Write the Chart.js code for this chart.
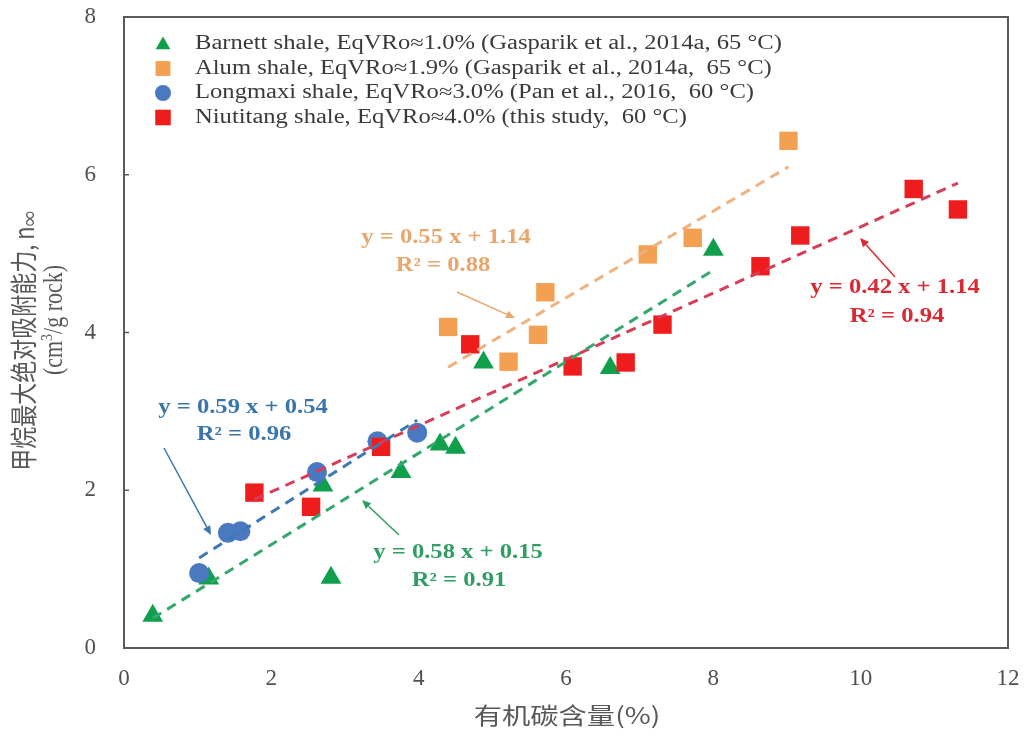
<!DOCTYPE html>
<html><head><meta charset="utf-8">
<script src="https://cdn.jsdelivr.net/npm/chart.js@4.4.0/dist/chart.umd.min.js"></script>
<style>html,body{margin:0;padding:0;background:#fff;}canvas{display:block;}</style>
</head><body>
<canvas id="c" width="1024" height="735"></canvas>
<script>
// ---------------- data ----------------
const seriesNames = [
  "Barnett shale, EqVRo\u22481.0% (Gasparik et al., 2014a, 65 \u00B0C)",
  "Alum shale, EqVRo\u22481.9% (Gasparik et al., 2014a,  65 \u00B0C)",
  "Longmaxi shale, EqVRo\u22483.0% (Pan et al., 2016,  60 \u00B0C)",
  "Niutitang shale, EqVRo\u22484.0% (this study,  60 \u00B0C)"
];
const barnettTOC = [0.39, 1.15, 2.70, 2.81, 3.76, 4.29, 4.50, 4.88, 6.60, 8.00];
const barnettN   = [0.41, 0.88, 2.06, 0.89, 2.23, 2.58, 2.54, 3.62, 3.55, 5.05];
const alumTOC    = [4.40, 5.22, 5.62, 5.72, 7.11, 7.72, 9.02];
const alumN      = [4.07, 3.63, 3.97, 4.51, 4.99, 5.20, 6.43];
const longmaxiTOC = [1.02, 1.41, 1.58, 2.62, 3.44, 3.98];
const longmaxiN   = [0.95, 1.46, 1.48, 2.23, 2.62, 2.73];
const niutitangTOC = [1.77, 2.54, 3.49, 4.70, 6.09, 6.81, 7.31, 8.64, 9.18, 10.72, 11.32];
const niutitangN   = [1.97, 1.79, 2.55, 3.85, 3.57, 3.62, 4.10, 4.84, 5.23, 5.82, 5.56];
// linear fits shown on the chart (Barnett, Alum, Longmaxi, Niutitang)
const fitSlope     = [0.58, 0.55, 0.59, 0.42];
const fitIntercept = [0.15, 1.14, 0.54, 1.14];
const fitR2        = [0.91, 0.88, 0.96, 0.94];
const xTickLabels = ["0","2","4","6","8","10","12"];
const yTickLabels = ["0","2","4","6","8"];
const xTitle = "\u6709\u673A\u78B3\u542B\u91CF(%)";
const yTitle1 = "\u7532\u70F7\u6700\u5927\u7EDD\u5BF9\u5438\u9644\u80FD\u529B, n";
const yTitle1Sub = "\u221E";
const yTitle2a = "(cm", yTitle2Sup = "3", yTitle2b = "/g rock)";

// ---------------- styles ----------------
const markerColors = ["#10A04C", "#F4A052", "#4A79C2", "#EE1C1C"];
const markerStyles = ["triangle", "rect", "circle", "rect"];
const markerRadius = [12, 13, 10, 13];
const lineColors   = ["#33A76C", "#F2B07E", "#3D79B4", "#D63E57"];
const labelColors  = ["#2E9E62", "#E9A66C", "#3A76AC", "#D92A34"];
const SX = 1.23; // horizontal stretch of the reference

const xs = [barnettTOC, alumTOC, longmaxiTOC, niutitangTOC];
const ys = [barnettN, alumN, longmaxiN, niutitangN];
const drawOrder = [4, 3, 2, 1];

const datasets = [];
for (let i = 0; i < 4; i++) {
  datasets.push({
    type: 'scatter',
    label: seriesNames[i],
    data: xs[i].map((x, k) => ({x: x, y: ys[i][k]})),
    pointStyle: markerStyles[i],
    pointRadius: markerRadius[i],
    pointHoverRadius: markerRadius[i],
    backgroundColor: markerColors[i],
    borderColor: markerColors[i],
    borderWidth: 0,
    order: drawOrder[i]
  });
}
for (let i = 0; i < 4; i++) {
  const x0 = Math.min(...xs[i]), x1 = Math.max(...xs[i]);
  datasets.push({
    type: 'line',
    label: 'fit' + i,
    data: [{x: x0, y: fitSlope[i]*x0 + fitIntercept[i]}, {x: x1, y: fitSlope[i]*x1 + fitIntercept[i]}],
    borderColor: lineColors[i],
    borderWidth: 3,
    borderDash: [10, 7],
    pointRadius: 0,
    fill: false,
    order: 0
  });
}

// annotation placement (pixels): [line1 cx, line1 cy, line2 cx, line2 cy, arrow from x,y, arrow to x,y]
const annos = [
  [458, 553, 459, 581, 399, 535, 362, 500],
  [446, 238, 443, 266, 457, 292, 515, 318],
  [243, 408, 244, 435, 164, 448, 211, 535],
  [895, 288, 897, 317, 895, 277, 860, 238]
];

function sText(ctx, text, x, y, align, font, color) {
  ctx.save();
  ctx.font = font; ctx.fillStyle = color; ctx.textBaseline = 'middle'; ctx.textAlign = 'left';
  const w = ctx.measureText(text).width * SX;
  const left = align === 'center' ? x - w/2 : (align === 'right' ? x - w : x);
  ctx.translate(left, y); ctx.scale(SX, 1);
  ctx.fillText(text, 0, 0);
  ctx.restore();
}
function marker(ctx, style, r, x, y, color) {
  ctx.save(); ctx.fillStyle = color; ctx.beginPath();
  if (style === 'triangle') {
    ctx.moveTo(x, y - r);
    ctx.lineTo(x + r*Math.sin(2*Math.PI/3), y - r*Math.cos(2*Math.PI/3));
    ctx.lineTo(x + r*Math.sin(4*Math.PI/3), y - r*Math.cos(4*Math.PI/3));
    ctx.closePath();
  } else if (style === 'rect') {
    const s = r*Math.SQRT1_2; ctx.rect(x - s, y - s, 2*s, 2*s);
  } else { ctx.arc(x, y, r, 0, 2*Math.PI); }
  ctx.fill(); ctx.restore();
}
function arrow(ctx, x0, y0, x1, y1, color) {
  ctx.save(); ctx.strokeStyle = color; ctx.fillStyle = color; ctx.lineWidth = 1.5;
  const a = Math.atan2(y1 - y0, x1 - x0), L = 9, W = 4;
  const bx = x1 - L*Math.cos(a), by = y1 - L*Math.sin(a);
  ctx.beginPath(); ctx.moveTo(x0, y0); ctx.lineTo(bx, by); ctx.stroke();
  ctx.beginPath(); ctx.moveTo(x1, y1);
  ctx.lineTo(bx + W*Math.sin(a), by - W*Math.cos(a));
  ctx.lineTo(bx - W*Math.sin(a), by + W*Math.cos(a));
  ctx.closePath(); ctx.fill(); ctx.restore();
}

const decor = {
  id: 'decor',
  afterDraw(chart) {
    const ctx = chart.ctx, ca = chart.chartArea, ysc = chart.scales.y;
    // frame
    ctx.save(); ctx.strokeStyle = '#5a5a5a'; ctx.lineWidth = 2;
    ctx.strokeRect(ca.left, ca.top, ca.right - ca.left, ca.bottom - ca.top);
    // inner y tick marks
    ctx.lineWidth = 1.5;
    ysc.ticks.forEach(t => {
      const py = ysc.getPixelForValue(t.value);
      ctx.beginPath(); ctx.moveTo(ca.left, py); ctx.lineTo(ca.left + 5, py); ctx.stroke();
    });
    ctx.restore();
    // legend
    const legY = [44, 68.5, 93, 117.5];
    const legR = [8.5, 10.5, 8, 11];
    for (let i = 0; i < 4; i++) {
      marker(ctx, markerStyles[i], legR[i], 163, legY[i] + (i === 0 ? 1 : 0), markerColors[i]);
      sText(ctx, seriesNames[i], 195, legY[i], 'left', '20px "Liberation Serif"', '#3a3a3a');
    }
    // fit annotations
    for (let i = 0; i < 4; i++) {
      const a = annos[i];
      const f = 'bold 20px "Liberation Serif"';
      sText(ctx, 'y = ' + fitSlope[i].toFixed(2) + ' x + ' + fitIntercept[i].toFixed(2), a[0], a[1], 'center', f, labelColors[i]);
      sText(ctx, 'R\u00B2 = ' + fitR2[i].toFixed(2), a[2], a[3], 'center', f, labelColors[i]);
      arrow(ctx, a[4], a[5], a[6], a[7], labelColors[i]);
    }
    // x title
    sText(ctx, xTitle, 567, 715, 'center', '23px "Noto Sans CJK SC"', '#585858');
    // y title line 1
    ctx.save();
    ctx.fillStyle = '#585858'; ctx.textBaseline = 'middle'; ctx.textAlign = 'left';
    ctx.translate(24, 341); ctx.rotate(-Math.PI/2); ctx.scale(1, SX);
    ctx.font = '22px "Noto Sans CJK SC"';
    const w1 = ctx.measureText(yTitle1).width;
    ctx.font = '15px "Noto Sans CJK SC"';
    const w1s = ctx.measureText(yTitle1Sub).width;
    let sx = -(w1 + w1s)/2;
    ctx.font = '22px "Noto Sans CJK SC"'; ctx.fillText(yTitle1, sx, 0);
    ctx.font = '15px "Noto Sans CJK SC"'; ctx.fillText(yTitle1Sub, sx + w1, 5);
    ctx.restore();
    // y title line 2
    ctx.save();
    ctx.fillStyle = '#585858'; ctx.textBaseline = 'middle'; ctx.textAlign = 'left';
    ctx.translate(55, 320); ctx.rotate(-Math.PI/2); ctx.scale(1, SX);
    ctx.font = '22px "Liberation Serif"';
    const wa = ctx.measureText(yTitle2a).width, wb = ctx.measureText(yTitle2b).width;
    ctx.font = '14px "Liberation Serif"';
    const ws = ctx.measureText(yTitle2Sup).width;
    sx = -(wa + ws + wb)/2;
    ctx.font = '22px "Liberation Serif"'; ctx.fillText(yTitle2a, sx, 0);
    ctx.font = '14px "Liberation Serif"'; ctx.fillText(yTitle2Sup, sx + wa, -6);
    ctx.font = '22px "Liberation Serif"'; ctx.fillText(yTitle2b, sx + wa + ws, 0);
    ctx.restore();
  }
};

new Chart(document.getElementById('c'), {
  data: { datasets: datasets },
  options: {
    responsive: false,
    animation: false,
    layout: { padding: { top: 17, right: 16, left: 0, bottom: 0 } },
    plugins: { legend: { display: false }, tooltip: { enabled: false } },
    scales: {
      x: {
        type: 'linear', min: 0, max: 12,
        grid: { display: false }, border: { display: false },
        afterFit: s => { s.height = 87; s.paddingLeft = 0; s.paddingRight = 0; },
        afterBuildTicks: s => { s.ticks = xTickLabels.map(v => ({value: +v})); },
        ticks: { padding: 9, color: '#505050', font: { family: 'Liberation Serif', size: 23 },
                 callback: (v, i) => xTickLabels[i] }
      },
      y: {
        type: 'linear', min: 0, max: 8,
        grid: { display: false }, border: { display: false },
        afterFit: s => { s.width = 124; s.paddingTop = 0; s.paddingBottom = 0; },
        afterBuildTicks: s => { s.ticks = yTickLabels.map(v => ({value: +v})); },
        ticks: { padding: 20, color: '#505050', font: { family: 'Liberation Serif', size: 23 },
                 callback: (v, i) => yTickLabels[i] }
      }
    }
  },
  plugins: [decor]
});
</script>
</body></html>
